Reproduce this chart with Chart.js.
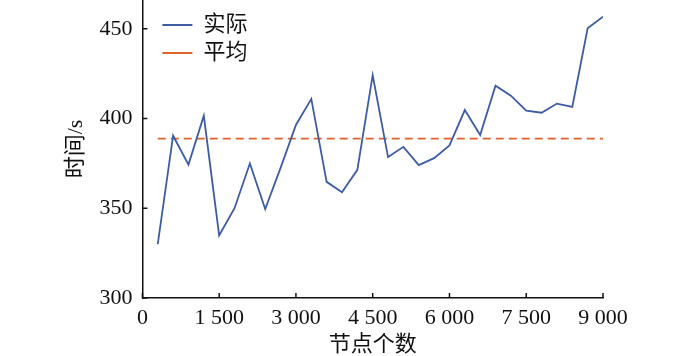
<!DOCTYPE html>
<html>
<head>
<meta charset="utf-8">
<script src="https://cdn.jsdelivr.net/npm/chart.js@4/dist/chart.umd.min.js"></script>
<style>
  html, body { margin: 0; padding: 0; background: #fff; }
  #wrap { width: 700px; height: 356px; }
</style>
</head>
<body>
<div id="wrap"><canvas id="chart"></canvas></div>
<script>
// Data
const nodeCounts = [300, 600, 900, 1200, 1500, 1800, 2100, 2400, 2700, 3000,
  3300, 3600, 3900, 4200, 4500, 4800, 5100, 5400, 5700, 6000,
  6300, 6600, 6900, 7200, 7500, 7800, 8100, 8400, 8700, 9000];
const actualTimes = [330, 390.4, 374.3, 401.5, 334.9, 350, 374.9, 349.6, 372.5, 396.4,
  410.9, 364.7, 358.9, 371.4, 424.1, 378.5, 384.2, 374, 377.9, 385,
  404.7, 390.8, 418.3, 412.7, 404.4, 403.2, 408.3, 406.4, 450.2, 456.7];
const averageTime = 388.8;
const xTicks = [0, 1500, 3000, 4500, 6000, 7500, 9000];
const yTicks = [300, 350, 400, 450];
const seriesLabels = ['实际', '平均'];

const FONT = "'Liberation Serif', 'Noto Sans CJK SC', serif";

function fmtThousands(v) {
  return String(v).replace(/\B(?=(\d{3})+(?!\d))/g, ' ');
}

// ticks drawn inward from the axis lines
const innerTicks = {
  id: 'innerTicks',
  afterLayout(chart) {
    // nudge the in-plot legend off the axis
    chart.legend.left += 14;
    chart.legend.top += 8;
  },
  afterDraw(chart) {
    const { ctx, chartArea, scales } = chart;
    ctx.save();
    ctx.strokeStyle = '#111';
    ctx.lineWidth = 1.5;
    ctx.beginPath();
    yTicks.forEach(v => {
      const y = scales.y.getPixelForValue(v);
      ctx.moveTo(chartArea.left, y);
      ctx.lineTo(chartArea.left + 5, y);
    });
    xTicks.forEach(v => {
      const x = scales.x.getPixelForValue(v);
      ctx.moveTo(x, chartArea.bottom);
      ctx.lineTo(x, chartArea.bottom - 5);
    });
    ctx.stroke();
    ctx.restore();
  }
};

const ctx = document.getElementById('chart').getContext('2d');
new Chart(ctx, {
  type: 'line',
  data: {
    datasets: [{
      label: seriesLabels[0],
      data: nodeCounts.map((n, i) => ({ x: n, y: actualTimes[i] })),
      borderColor: '#3d5ca6',
      backgroundColor: '#3d5ca6',
      borderWidth: 1.8,
      pointRadius: 0,
      tension: 0,
    }, {
      label: seriesLabels[1],
      data: [{ x: nodeCounts[0], y: averageTime }, { x: nodeCounts[nodeCounts.length - 1], y: averageTime }],
      borderColor: '#e0622a',
      backgroundColor: '#e0622a',
      borderWidth: 1.8,
      borderDash: [8, 5],
      pointRadius: 0,
    }]
  },
  options: {
    responsive: true,
    maintainAspectRatio: false,
    animation: false,
    layout: { padding: { left: 61, right: 97, top: 0, bottom: 0 } },
    plugins: {
      tooltip: { enabled: false },
      legend: {
        position: 'chartArea',
        align: 'start',
        labels: {
          usePointStyle: true,
          pointStyle: 'line',
          pointStyleWidth: 30,
          boxWidth: 30,
          boxHeight: 10,
          padding: 6,
          color: '#111',
          font: { family: FONT, size: 22 },
        }
      }
    },
    scales: {
      x: {
        type: 'linear',
        min: 0,
        max: 9000,
        afterBuildTicks: s => { s.ticks = xTicks.map(v => ({ value: v })); },
        grid: { display: false, drawTicks: false },
        border: { display: true, color: '#111', width: 1.5 },
        ticks: {
          padding: 9,
          maxRotation: 0,
          color: '#111',
          font: { family: FONT, size: 22, lineHeight: 1 },
          callback: v => fmtThousands(v),
        },
        title: {
          display: true,
          text: '节点个数',
          color: '#111',
          padding: { top: -4, bottom: 0 },
          font: { family: FONT, size: 22, lineHeight: 1 },
        }
      },
      y: {
        min: 300,
        max: 466,
        afterBuildTicks: s => { s.ticks = yTicks.map(v => ({ value: v })); },
        afterFit: s => { s.paddingTop = 0; },
        grid: { display: false, drawTicks: false },
        border: { display: true, color: '#111', width: 1.5 },
        ticks: {
          padding: 10,
          color: '#111',
          font: { family: FONT, size: 22 },
        },
        title: {
          display: true,
          text: '时间/s',
          color: '#111',
          padding: { top: 2, bottom: 0 },
          font: { family: FONT, size: 22 },
        }
      }
    }
  },
  plugins: [innerTicks]
});
</script>
</body>
</html>
